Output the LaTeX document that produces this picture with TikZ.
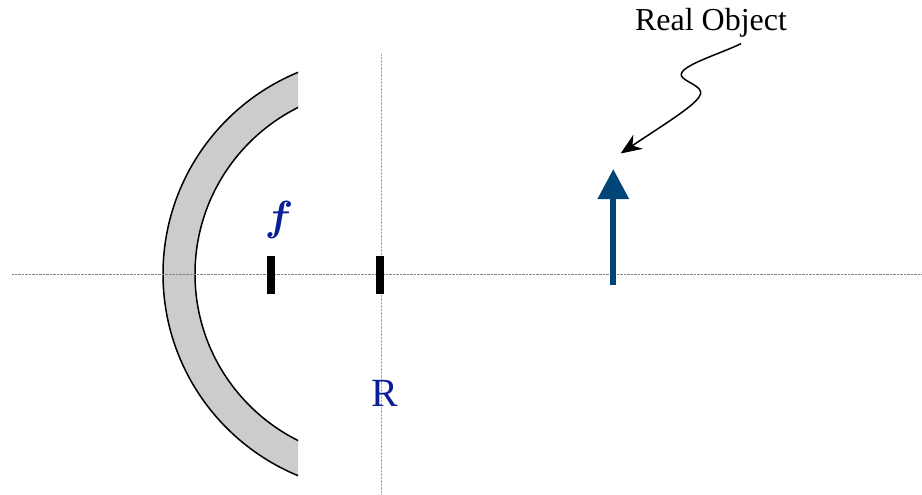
\documentclass[tikz,border=0pt]{standalone}
\usepackage{fontspec}
\setmainfont{Liberation Serif}
\usetikzlibrary{arrows.meta,positioning,calc}
\font\flblfont=cmmib10 at 42pt
\definecolor{labelblue}{RGB}{10,30,150}
\definecolor{objblue}{RGB}{0,68,120}
\definecolor{mirrorgray}{RGB}{204,204,204}
\tikzset{
  axisline/.style={draw=black!50, line width=0.8pt, dash pattern=on 1pt off 0.4pt},
  mirror/.style={draw=black, line width=1.5pt, fill=mirrorgray, even odd rule},
  marker/.style={draw=none, fill=black, rectangle, inner sep=0pt, minimum width=8pt, minimum height=38pt},
  bluelbl/.style={text=labelblue, inner sep=0pt},
  objarr/.style={-{Triangle[length=30pt,width=30pt]}, draw=objblue, line width=6pt},
  callout/.style={-{Stealth[length=21pt,width=17pt]}, line width=1.5pt},
}
\begin{document}
\begin{tikzpicture}[x=1pt,y=-1pt]
\useasboundingbox (0,0) rectangle (922,495);

\coordinate (center) at (381,274);

% mirror
\begin{scope}
\clip (0,0) rectangle (298,495);
\draw[mirror] (center) circle (218pt) (center) circle (186pt);
\end{scope}

% axes
\coordinate (axisL) at (12,274);
\coordinate (axisR) at (922,274);
\coordinate (vertT) at (381,54);
\coordinate (vertB) at (381,494);
\draw[axisline] (axisL) -- (axisR);
\draw[axisline, draw=black!35] (vertT) -- (vertB);

\node[marker] (fmark) at (271.3,275) {};
\node[marker] (cmark) at (379.7,275) {};

\node[bluelbl, font=\flblfont, above=17pt of fmark, xshift=5.5pt] (flbl) {f};
\node[bluelbl, font=\fontsize{40}{44}\selectfont, below=86pt of cmark, xshift=5.5pt] (rlbl) {R};

% object
\coordinate (objbase) at (613.3,285);
\coordinate (objtop) at (613.3,169);
\draw[objarr] (objbase) -- (objtop);

\node[inner sep=0pt, font=\fontsize{32}{36}\selectfont] (objlbl) at (711,23) {Real Object};
\coordinate (calloutend) at (620.7,153.5);
\draw[callout] ($(objlbl.south)+(30,6)$) .. controls (715,56) and (672,68) .. (683,78)
  .. controls (690,84) and (706,88) .. (699,97)
  .. controls (693,107) and (660,127) .. (calloutend);

\end{tikzpicture}
\end{document}
